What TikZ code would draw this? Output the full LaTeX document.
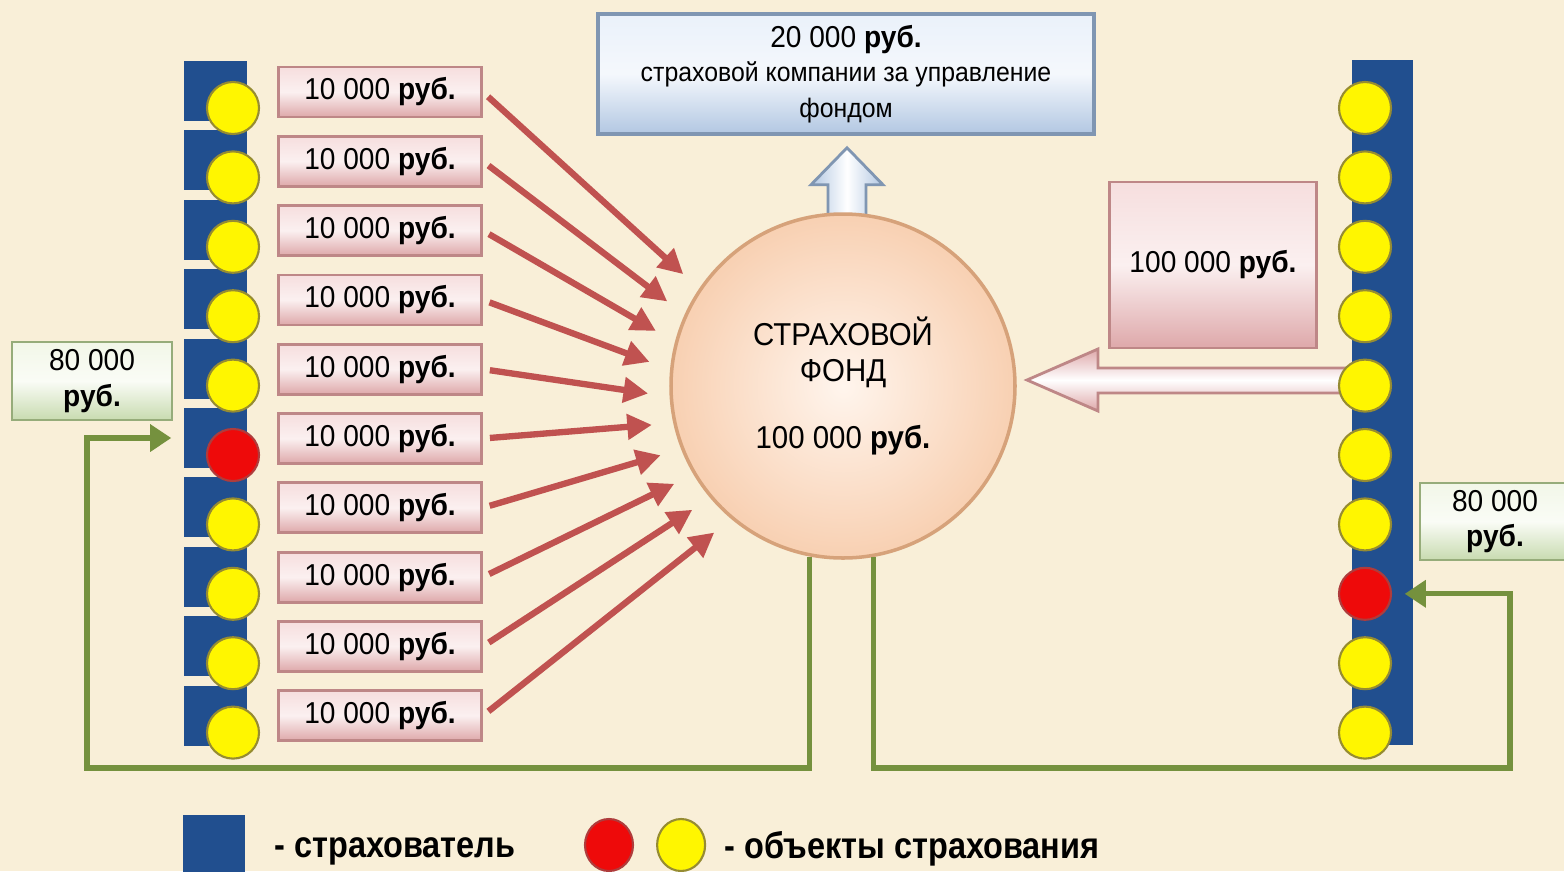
\documentclass[tikz,border=0pt]{standalone}
\usepackage{fontspec}
\setmainfont{Liberation Sans}[FakeStretch=0.93]
\newfontfamily\narrowfont{Liberation Sans}[FakeStretch=0.88]
\usetikzlibrary{calc}
\usetikzlibrary{arrows.meta, positioning, shapes.geometric}

\definecolor{parchment}{RGB}{249,239,216}
\definecolor{holderblue}{RGB}{33,79,143}
\definecolor{objyellow}{RGB}{255,246,0}
\definecolor{objedge}{RGB}{150,140,50}
\definecolor{objred}{RGB}{238,10,10}
\definecolor{lostedge}{RGB}{175,60,60}
\definecolor{payred}{RGB}{192,82,80}
\definecolor{paygreen}{RGB}{117,145,62}
\definecolor{pinktop}{RGB}{246,222,222}
\definecolor{pinkbot}{RGB}{222,168,170}
\definecolor{pinkedge}{RGB}{190,135,135}
\definecolor{greentop}{RGB}{242,247,232}
\definecolor{greenbot}{RGB}{200,219,176}
\definecolor{greenedge}{RGB}{150,172,122}
\definecolor{bluetop}{RGB}{234,241,250}
\definecolor{bluebot}{RGB}{178,199,226}
\definecolor{blueedge}{RGB}{128,150,178}
\definecolor{peachin}{RGB}{255,245,237}
\definecolor{peachout}{RGB}{248,208,178}
\definecolor{peachedge}{RGB}{214,162,122}

\newcommand{\rubl}{\textbf{руб.}}
\newcommand{\boxfont}{\fontsize{8.6}{10.2}\selectfont}
\newcommand{\feefont}{\fontsize{7.6}{9.7}\selectfont}

\begin{document}
\begin{tikzpicture}[
		>=latex,
		holder/.style={fill=holderblue,inner sep=0,minimum width=0.63cm,minimum height=0.60cm},
		object/.style={circle,fill=objyellow,draw=objedge,line width=0.6pt,inner sep=0,minimum size=0.52cm},
		lost/.style={object,fill=objred,draw=lostedge},
		premium/.style={draw=pinkedge,line width=0.8pt,top color=pinktop,bottom color=pinkbot,middle color=white!55!pinktop,
			inner sep=0,minimum width=2.03cm,minimum height=0.50cm,font=\boxfont},
		reserve/.style={draw=greenedge,line width=0.8pt,top color=greentop,bottom color=greenbot,middle color=white!60!greentop,
			inner sep=0,align=center,font=\boxfont},
		flow/.style={payred,line width=1.8pt,shorten <=2pt,-{Triangle[length=7pt,width=7pt]}},
		payout/.style={paygreen,line width=1.5pt,-{Triangle[length=6pt,width=7.5pt]}},
	]
	\fill[parchment] (0,0) rectangle (15.64,-8.71);
	\useasboundingbox (0,0) rectangle (15.64,-8.71);
	\coordinate (fc) at (8.43,-3.86);

	% insured on the left, their premiums
	\foreach \i in {0,...,9} {
		\node[holder] (holderL\i) at (2.155,{-0.91-0.694*\i}) {};
		\node[premium] (payL\i) at (3.80,{-0.92-0.693*\i}) {10 000 \rubl};
		\coordinate (tip\i) at ($(fc)+({145+9.3*\i}:1.95)$);
		\draw[flow] (payL\i.east) -- (tip\i);
	}
	\foreach \i/\kind in {0/object,1/object,2/object,3/object,4/object,5/lost,6/object,7/object,8/object,9/object}
		\node[\kind] (objL\i) at (2.33,{-1.08-0.694*\i}) {};

	% fee of the company
	\node[draw=blueedge,line width=1pt,top color=bluetop,bottom color=bluebot,middle color=white!50!bluetop,
		minimum width=4.96cm,minimum height=1.20cm,align=center,inner sep=0,font=\boxfont] (fee) at (8.46,-0.74)
		{20 000 \rubl\\[-0.4pt]\feefont страховой компании за управление\\\feefont фондом};
	\coordinate (up) at ($(fee.south)+(0.01,-0.12)$);
	\draw[blueedge,line width=0.8pt,left color=bluebot,right color=bluebot,middle color=white]
		(up) -- ++(0.36,-0.37) -- ++(-0.17,0) -- ++(0,-0.5) -- ++(-0.38,0) -- ++(0,0.5) -- ++(-0.17,0) -- cycle;

	% the fund
	\node[circle,draw=peachedge,line width=1pt,shading=radial,inner color=peachin,outer color=peachout,
		minimum size=3.44cm,align=center,inner sep=0,font=\fontsize{9}{10.2}\selectfont] (fund) at (fc)
		{СТРАХОВОЙ\\ФОНД\\[9pt]100 000 \rubl};

	% insured on the right
	\node[holder,minimum width=0.61cm,minimum height=6.85cm] (barR) at (13.825,-4.025) {};
	\coordinate (in) at (10.27,-3.80);
	\draw[pinkedge,line width=0.8pt,top color=pinkbot,bottom color=pinkbot,middle color=white]
		(in) -- ++(0.71,0.31) -- ++(0,-0.19) -- ++(2.52,0) -- ++(0,-0.25) -- ++(-2.52,0) -- ++(0,-0.18) -- cycle;
	\foreach \i/\kind in {0/object,1/object,2/object,3/object,4/object,5/object,6/object,7/lost,8/object,9/object}
		\node[\kind] (objR\i) at (13.65,{-1.08-0.694*\i}) {};
	\node[premium,minimum width=2.07cm,minimum height=1.66cm] (claim) at (12.13,-2.65) {100 000 \rubl};

	% payouts
	\node[reserve,minimum width=1.60cm,minimum height=0.78cm] (backL) at (0.92,-3.81) {80 000\\\rubl};
	\node[reserve,minimum width=1.50cm,minimum height=0.77cm] (backR) at (14.95,-5.215) {80 000\\\rubl};
	\coordinate (lowL) at (0.87,-7.68);
	\coordinate (lowR) at (15.10,-7.68);
	\draw[payout,shorten >=0.12cm] (fund.-101) |- (lowL) |- (holderL5.west);
	\draw[payout,shorten >=-0.09cm] (fund.-80) |- (lowR) |- (barR.east |- objR7);

	% legend
	\node[holder,minimum width=0.62cm] (keyH) at (2.14,-8.45) {};
	\node[right,font=\narrowfont\fontsize{10.5}{12}\selectfont\bfseries] (keyHt) at (2.62,-8.51) {- страхователь};
	\node[ellipse,fill=objred,draw=lostedge,line width=0.6pt,minimum width=0.48cm,minimum height=0.52cm,inner sep=0] (keyR) at (6.09,-8.45) {};
	\node[ellipse,fill=objyellow,draw=objedge,line width=0.6pt,minimum width=0.48cm,minimum height=0.52cm,inner sep=0,right=0.22cm of keyR] (keyY) {};
	\node[right,font=\narrowfont\fontsize{10.5}{12}\selectfont\bfseries] (keyYt) at (7.12,-8.49) {- объекты страхования};
\end{tikzpicture}
\end{document}
